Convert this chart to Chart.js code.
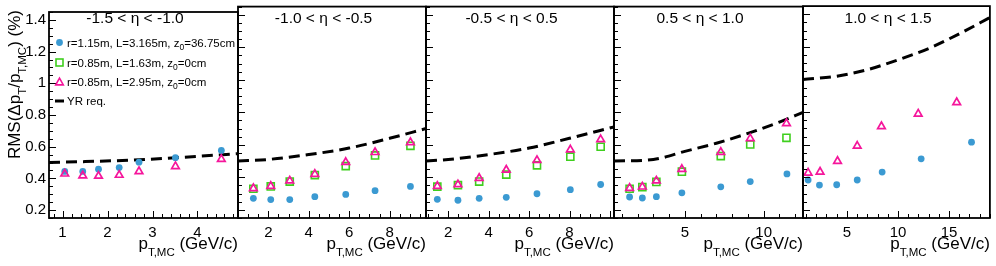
<!DOCTYPE html>
<html><head><meta charset="utf-8">
<script src="https://cdn.jsdelivr.net/npm/chart.js@4.4.1/dist/chart.umd.min.js"></script>
<style>
body{margin:0;background:#fff}
#wrap{position:relative;width:996px;height:266px;background:#fff}
#wrap canvas{position:absolute;left:0;top:0}
</style>
</head><body><div id="wrap"></div>
<script>
// ---------- data ----------
const etaTitles = ['-1.5 < \u03b7 < -1.0', '-1.0 < \u03b7 < -0.5', '-0.5 < \u03b7 < 0.5', '0.5 < \u03b7 < 1.0', '1.0 < \u03b7 < 1.5'];
const legendLabels = ['r=1.15m, L=3.165m, z|0|=36.75cm', 'r=0.85m, L=1.63m, z|0|=0cm', 'r=0.85m, L=2.95m, z|0|=0cm', 'YR req.'];
const yTickLabels = [0.2, 0.4, 0.6, 0.8, 1.0, 1.2, 1.4];
const xTickLabels = [[1, 2, 3, 4], [2, 4, 6, 8], [2, 4, 6, 8], [5, 10], [5, 10, 15]];

// panel 1 : -1.5 < eta < -1.0
const pt1Blue = [1.05, 1.45, 1.80, 2.26, 2.70, 3.51, 4.53];
const rms1Blue = [0.444, 0.444, 0.458, 0.468, 0.502, 0.531, 0.576];
const pt1Open = [1.05, 1.45, 1.80, 2.26, 2.70, 3.51, 4.53];
const rms1Green = [];
const rms1Magenta = [0.429, 0.417, 0.415, 0.421, 0.444, 0.476, 0.521];
const yr1Pt = [0.7, 1.5, 2.5, 3.5, 4.9];
const yr1Rms = [0.500, 0.506, 0.515, 0.530, 0.556];

// panel 2 : -1.0 < eta < -0.5
const pt2Blue = [1.26, 2.12, 3.06, 4.30, 5.83, 7.28, 9.03];
const rms2Blue = [0.271, 0.263, 0.263, 0.281, 0.295, 0.318, 0.344];
const pt2Open = [1.26, 2.12, 3.06, 4.30, 5.83, 7.28, 9.03];
const rms2Green = [0.330, 0.344, 0.374, 0.414, 0.469, 0.535, 0.594];
const rms2Magenta = [0.332, 0.346, 0.379, 0.420, 0.493, 0.554, 0.615];
const yr2Pt = [0.5, 2, 4, 6, 8, 9.8];
const yr2Rms = [0.500, 0.510, 0.540, 0.580, 0.640, 0.700];

// panel 3 : -0.5 < eta < 0.5
const pt3Blue = [1.46, 2.48, 3.53, 4.87, 6.39, 8.04, 9.54];
const rms3Blue = [0.265, 0.259, 0.271, 0.277, 0.299, 0.324, 0.356];
const pt3Open = [1.46, 2.48, 3.53, 4.87, 6.39, 8.04, 9.54];
const rms3Green = [0.343, 0.352, 0.374, 0.417, 0.474, 0.527, 0.588];
const rms3Magenta = [0.346, 0.356, 0.395, 0.446, 0.505, 0.570, 0.633];
const yr3Pt = [0.9, 2, 4, 6, 8, 10.2];
const yr3Rms = [0.500, 0.510, 0.540, 0.580, 0.640, 0.710];

// panel 4 : 0.5 < eta < 1.0
const pt4Blue = [1.49, 2.30, 3.19, 4.81, 7.28, 9.15, 11.48];
const rms4Blue = [0.279, 0.273, 0.281, 0.305, 0.342, 0.374, 0.421];
const pt4Open = [1.49, 2.30, 3.19, 4.81, 7.28, 9.15, 11.45];
const rms4Green = [0.330, 0.340, 0.372, 0.435, 0.531, 0.602, 0.643];
const rms4Magenta = [0.334, 0.342, 0.379, 0.450, 0.555, 0.639, 0.732];
const yr4Pt = [0.5, 3, 5, 7, 9, 11, 12.5];
const yr4Rms = [0.500, 0.510, 0.560, 0.610, 0.670, 0.740, 0.800];

// panel 5 : 1.0 < eta < 1.5
const pt5Blue = [1.20, 2.31, 4.00, 6.01, 8.45, 12.27, 17.20];
const rms5Blue = [0.383, 0.352, 0.354, 0.383, 0.432, 0.513, 0.615];
const pt5Open = [1.20, 2.37, 4.08, 6.01, 8.38, 11.98, 15.75];
const rms5Green = [];
const rms5Magenta = [0.427, 0.433, 0.499, 0.592, 0.712, 0.789, 0.859];
const yr5Pt = [0.7, 4, 7, 10, 13, 16, 19];
const yr5Rms = [1.000, 1.020, 1.060, 1.120, 1.190, 1.280, 1.380];

// axis set-up
const xRanges = [[0.7, 4.9], [0.5, 9.8], [0.9, 10.2], [0.5, 12.5], [0.7, 19.0]];
const xMajorSteps = [1, 2, 2, 5, 5];
const xMinorSteps = [0.2, 0.5, 0.5, 1, 1];
const yRange = [0.15, 1.45];

// ---------- styling ----------
const FONT = '"Liberation Sans", Arial, Helvetica, sans-serif';
const BLUE = '#3b9ad2';
const GREEN = '#3fcf1e';
const MAGENTA = '#f5169b';
const L = [49, 238, 426, 614, 803];
const R = [238, 426, 614, 803, 991];
const TOP = 3, BOTTOM = 218, W = 996, H = 266;

const panelData = [
  [pt1Blue, rms1Blue, pt1Open, rms1Green, rms1Magenta, yr1Pt, yr1Rms],
  [pt2Blue, rms2Blue, pt2Open, rms2Green, rms2Magenta, yr2Pt, yr2Rms],
  [pt3Blue, rms3Blue, pt3Open, rms3Green, rms3Magenta, yr3Pt, yr3Rms],
  [pt4Blue, rms4Blue, pt4Open, rms4Green, rms4Magenta, yr4Pt, yr4Rms],
  [pt5Blue, rms5Blue, pt5Open, rms5Green, rms5Magenta, yr5Pt, yr5Rms]
];

function pts(xs, ys) { return ys.map((y, i) => ({x: xs[i], y: y})); }
function steps(a, b, s) { const out = []; const n0 = Math.ceil(a / s - 1e-9); for (let n = n0; n * s <= b + 1e-9; n++) out.push(+(n * s).toFixed(6)); return out; }

function drawRich(ctx, parts, x, y, align) {
  let w = 0;
  parts.forEach(p => { ctx.font = p[1] + 'px ' + FONT; w += ctx.measureText(p[0]).width; });
  let cx = align === 'right' ? x - w : (align === 'center' ? x - w / 2 : x);
  parts.forEach(p => { ctx.font = p[1] + 'px ' + FONT; ctx.fillText(p[0], cx, y + (p[2] || 0)); cx += ctx.measureText(p[0]).width; });
}
function subParts(str, size, subSize, dy) {
  return str.split('|').map((s, i) => i % 2 ? [s, subSize, dy] : [s, size, 0]);
}

const decoPlugin = {
  id: 'deco',
  afterDraw(chart, args, opts) {
    const ctx = chart.ctx, a = chart.chartArea;
    const i = opts.idx;
    const xs = chart.scales.x, ys = chart.scales.y;
    ctx.save();
    ctx.strokeStyle = '#000'; ctx.fillStyle = '#000';
    ctx.lineWidth = 1;
    ctx.beginPath();
    steps(xRanges[i][0], xRanges[i][1], xMinorSteps[i]).forEach(v => {
      const px = Math.round(xs.getPixelForValue(v)) + 0.5;
      const isMaj = Math.abs(v / xMajorSteps[i] - Math.round(v / xMajorSteps[i])) < 1e-6;
      const len = isMaj ? 7 : 4;
      ctx.moveTo(px, a.bottom); ctx.lineTo(px, a.bottom - len);
    });
    steps(yRange[0], yRange[1], 0.05).forEach(v => {
      const py = Math.round(ys.getPixelForValue(v)) + 0.5;
      const isMaj = Math.abs(v / 0.2 - Math.round(v / 0.2)) < 1e-6;
      const len = isMaj ? 7 : 4;
      ctx.moveTo(a.left, py); ctx.lineTo(a.left + len, py);
    });
    ctx.stroke();
    ctx.lineWidth = 1.8;
    ctx.strokeRect(a.left, a.top, a.right - a.left, a.bottom - a.top);
    ctx.textBaseline = 'alphabetic';
    ctx.font = '15.5px ' + FONT;
    ctx.textAlign = 'center';
    ctx.fillText(etaTitles[i], a.left + 0.455 * (a.right - a.left), 23);
    ctx.textAlign = 'left';
    drawRich(ctx, [['p', 17, 0], ['T,MC', 11.5, 7], [' (GeV/c)', 17, 0]], a.right, 249, 'right');
    if (i === 0) {
      ctx.save();
      ctx.translate(20, 10);
      ctx.rotate(-Math.PI / 2);
      drawRich(ctx, [['RMS(\u0394p', 17, 0], ['T', 11.5, 6], ['/p', 17, 0], ['T,MC', 11.5, 6], [') (%)', 17, 0]], 0, 0, 'right');
      ctx.restore();
      const rows = [42.5, 62.5, 82.3, 101];
      const mx = 59.5, tx = 67;
      ctx.fillStyle = BLUE;
      ctx.beginPath(); ctx.arc(mx, rows[0], 3.4, 0, Math.PI * 2); ctx.fill();
      ctx.strokeStyle = GREEN; ctx.lineWidth = 1.6;
      ctx.strokeRect(mx - 3.5, rows[1] - 3.5, 7, 7);
      ctx.strokeStyle = MAGENTA;
      ctx.beginPath(); ctx.moveTo(mx, rows[2] - 4.2); ctx.lineTo(mx + 3.8, rows[2] + 2.6); ctx.lineTo(mx - 3.8, rows[2] + 2.6); ctx.closePath(); ctx.stroke();
      ctx.strokeStyle = '#000'; ctx.lineWidth = 3;
      ctx.beginPath(); ctx.moveTo(mx - 4.5, rows[3]); ctx.lineTo(mx + 4.5, rows[3]); ctx.stroke();
      ctx.fillStyle = '#000';
      legendLabels.forEach((lab, k) => drawRich(ctx, subParts(lab, 11.5, 8.5, 3), tx, rows[k] + 4, 'left'));
    }
    ctx.restore();
  }
};

const wrap = document.getElementById('wrap');
for (let i = 0; i < 5; i++) {
  const cv = document.createElement('canvas');
  cv.width = W; cv.height = H; cv.style.width = W + 'px'; cv.style.height = H + 'px';
  wrap.appendChild(cv);
  const d = panelData[i];
  const datasets = [
    {data: pts(d[2], d[4]), pointStyle: 'triangle', pointRadius: 4.4, pointBorderWidth: 1.7, borderColor: MAGENTA, backgroundColor: 'rgba(0,0,0,0)', showLine: false},
    {data: pts(d[2], d[3]), pointStyle: 'rect', pointRadius: 5, pointBorderWidth: 1.6, borderColor: GREEN, backgroundColor: 'rgba(0,0,0,0)', showLine: false},
    {data: pts(d[0], d[1]), pointStyle: 'circle', pointRadius: 3.4, pointBorderWidth: 0, borderColor: BLUE, backgroundColor: BLUE, showLine: false},
    {data: pts(d[5], d[6]), showLine: true, pointRadius: 0, borderColor: '#000', borderWidth: 3, borderDash: [11, 6], cubicInterpolationMode: 'monotone', fill: false}
  ];
  const yAxis = {
    type: 'linear', min: yRange[0], max: yRange[1], display: i === 0,
    afterBuildTicks: s => { s.ticks = yTickLabels.map(v => ({value: v})); },
    grid: {display: false, drawTicks: false}, border: {display: false},
    ticks: {color: '#000', font: {family: FONT, size: 15}, padding: 3, callback: v => (Math.abs(v - 1) < 1e-9 ? '1' : v.toFixed(1))}
  };
  if (i === 0) yAxis.afterFit = s => { s.width = L[0]; };
  new Chart(cv, {
    type: 'scatter',
    data: {datasets},
    options: {
      responsive: false, animation: false, devicePixelRatio: 1,
      layout: {padding: {left: i === 0 ? 0 : L[i], right: W - R[i], top: TOP, bottom: 0}},
      plugins: {legend: {display: false}, tooltip: {enabled: false}, deco: {idx: i}},
      scales: {
        x: {
          type: 'linear', min: xRanges[i][0], max: xRanges[i][1],
          afterBuildTicks: s => { s.ticks = xTickLabels[i].map(v => ({value: v})); },
          afterFit: s => { s.height = H - BOTTOM; },
          grid: {display: false, drawTicks: false}, border: {display: false},
          ticks: {color: '#000', font: {family: FONT, size: 15}, padding: 6, maxRotation: 0, autoSkip: false, callback: v => String(v)}
        },
        y: yAxis
      }
    },
    plugins: [decoPlugin]
  });
}
</script>
</body></html>
